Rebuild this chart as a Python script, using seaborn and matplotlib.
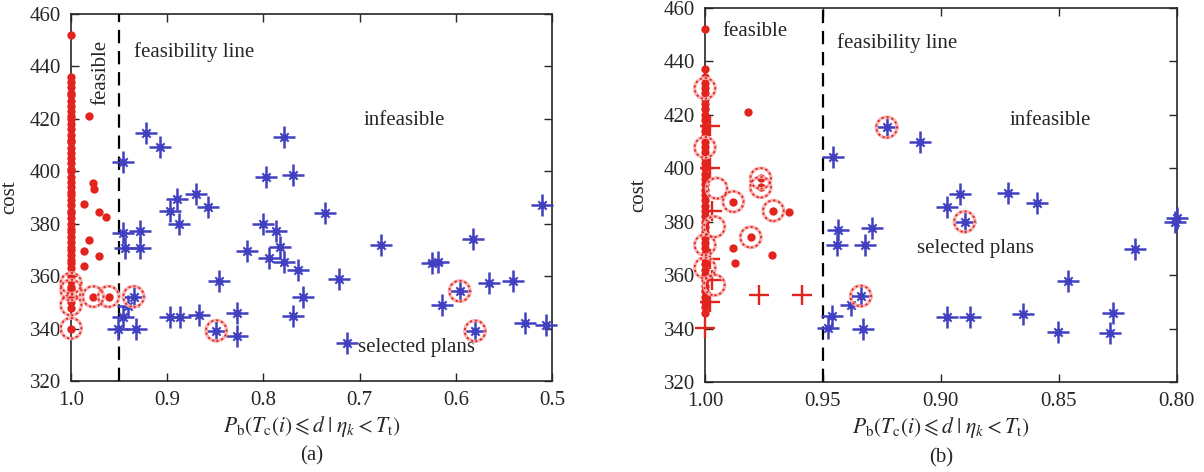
import matplotlib
matplotlib.use("Agg")
import matplotlib.pyplot as plt
import seaborn as sns

sns.set_style("ticks")
plt.rcParams['font.family'] = ['Liberation Serif', 'DejaVu Serif']
plt.rcParams['mathtext.fontset'] = 'stix'
plt.rcParams['font.size'] = 15

RED = "#e3231e"
BLUE = "#4040c0"
threshold = 0.95

# ---- panel (a) ----
a_col_y = [340, 348, 350, 352, 353, 355, 356, 358, 360, 361, 363, 365, 366, 368,
           370, 371, 373, 375, 377, 378, 380, 382, 384, 385, 387, 389, 391, 392,
           394, 396, 398, 400, 401, 403, 405, 407, 409, 411, 412, 414, 416, 418,
           420, 421, 423, 425, 427, 429, 430, 432, 434, 436, 452]
a_feas_x = [0.981, 0.977, 0.976, 0.987, 0.971, 0.964, 0.981, 0.987, 0.971, 0.987, 0.977, 0.961]
a_feas_y = [421.0, 395.4, 393.1, 387.5, 384.6, 382.7, 373.8, 369.7, 367.7, 363.9, 352.2, 352.2]
a_inf_x = [0.946, 0.922, 0.908, 0.897, 0.890, 0.888, 0.870, 0.858, 0.946, 0.928,
           0.779, 0.797, 0.769, 0.800, 0.787, 0.944, 0.928, 0.817, 0.794, 0.783,
           0.779, 0.764, 0.846, 0.935, 0.941, 0.946, 0.951, 0.932, 0.897, 0.887,
           0.867, 0.849, 0.827, 0.827, 0.769, 0.736, 0.721, 0.759, 0.678, 0.713,
           0.625, 0.619, 0.582, 0.614, 0.596, 0.580, 0.566, 0.541, 0.528, 0.506, 0.510]
a_inf_y = [403.7, 414.5, 409.2, 385.0, 389.3, 379.9, 391.2, 386.3, 376.6, 377.3,
           413.2, 397.9, 398.6, 379.9, 377.3, 370.6, 370.6, 369.7, 366.8, 371.2,
           365.5, 362.5, 358.3, 352.2, 348.6, 344.3, 339.7, 339.7, 344.3, 344.3,
           345.2, 339.2, 345.8, 337.2, 344.8, 384.0, 358.8, 352.2, 371.9, 334.4,
           365.1, 365.5, 374.0, 349.0, 354.3, 339.1, 357.3, 358.2, 342.2, 341.4, 387.1]
a_sel_x = [1.0, 1.0, 1.0, 1.0, 0.977, 0.961, 0.935, 0.849, 0.596, 0.580]
a_sel_y = [357.3, 354.7, 349.0, 340.1, 352.2, 352.2, 352.2, 339.2, 354.3, 339.1]

# ---- panel (b) ----
b_col_y = [346, 348, 350, 352, 354, 356, 358, 360, 362, 364, 366, 368, 370, 372,
           374, 376, 378, 380, 382, 384, 386, 388, 390, 392, 394, 396, 398, 400,
           402, 404, 406, 408, 410, 412, 414, 416, 418, 420, 422, 424, 426, 428,
           430, 432, 434, 437, 452]
b_feas_x = [0.9819, 0.9764, 0.9764, 0.988, 0.971, 0.9643, 0.9806, 0.988, 0.9873, 0.9715]
b_feas_y = [421.2, 396.2, 392.9, 387.5, 384.1, 383.5, 374.2, 370.0, 364.4, 367.5]
b_plus_x = [1.0, 0.998, 0.997, 0.998, 0.997, 0.998, 0.998, 0.977, 0.959]
b_plus_y = [340.1, 350.0, 358.0, 366.0, 384.0, 400.0, 416.0, 352.6, 352.6]
b_inf_x = [0.9456, 0.923, 0.9435, 0.929, 0.944, 0.932, 0.934, 0.938, 0.946, 0.948,
           0.933, 0.9088, 0.8975, 0.892, 0.890, 0.8717, 0.8594, 0.8007, 0.800,
           0.8177, 0.846, 0.8975, 0.8876, 0.8653, 0.8506, 0.8269, 0.8283]
b_inf_y = [404.3, 415.3, 376.9, 377.8, 371.3, 371.3, 352.2, 348.8, 344.7, 340.1,
           339.7, 409.9, 385.6, 390.4, 380.0, 390.9, 387.1, 380.0, 381.5,
           369.7, 357.9, 344.4, 344.4, 345.5, 338.8, 345.9, 338.2]
b_sel_x = [1.0, 1.0, 0.995, 0.996, 1.0, 1.0, 0.996, 0.9764, 0.9764, 0.988, 0.971,
           0.9806, 0.923, 0.934, 0.890]
b_sel_y = [429.9, 407.8, 392.5, 378.1, 371.3, 362.7, 356.3, 396.2, 392.9, 387.5,
           384.1, 374.2, 415.3, 352.2, 380.0]


def stars(ax, x, y):
    sns.scatterplot(x=x, y=y, ax=ax, marker='+', s=230, color=BLUE,
                    linewidth=1.8, clip_on=False, zorder=4)
    sns.scatterplot(x=x, y=y, ax=ax, marker='x', s=36, color=BLUE,
                    linewidth=1.5, clip_on=False, zorder=4)
    sns.scatterplot(x=x, y=y, ax=ax, marker='D', s=22, color=BLUE,
                    linewidth=0, clip_on=False, zorder=4)


def dots(ax, x, y):
    sns.scatterplot(x=x, y=y, ax=ax, marker='o', s=36, color=RED,
                    linewidth=0, clip_on=False, zorder=5)


def rings(ax, x, y):
    sns.scatterplot(x=x, y=y, ax=ax, marker='o', s=220, color='none',
                    edgecolor="#f7b4b4", linewidth=2.4, clip_on=False, zorder=6)
    sns.scatterplot(x=x, y=y, ax=ax, marker='o', s=220, color='none',
                    edgecolor=RED, linewidth=1.3, linestyle=(0, (1.2, 1.6)),
                    clip_on=False, zorder=6)


def style(ax, xlim, xticks, xtl, tag, ylab_x):
    ax.set_xlim(*xlim)
    ax.set_ylim(320, 460)
    ax.set_xticks(xticks)
    ax.set_xticklabels(xtl)
    ax.set_yticks(range(320, 461, 20))
    ax.tick_params(direction='in', length=6, width=1, top=True, right=True,
                   labelsize=15, pad=7)
    for sp in ax.spines.values():
        sp.set_visible(True)
        sp.set_linewidth(1.2)
    ax.axvline(threshold, color='k', lw=1.6, ls=(0, (6, 3.5)), zorder=3)
    ax.set_ylabel("cost", fontsize=15)
    ax.yaxis.set_label_coords(ylab_x, 0.5)
    ax.set_xlabel(r'$P_{\mathrm{b}}(T_{\mathrm{c}}(i)\leqslant d\;|\;\eta_k<T_{\mathrm{t}})$',
                  fontsize=15.5)
    ax.xaxis.set_label_coords(0.5, -0.123)
    ax.xaxis.label.set_va('center')
    ax.text(0.5, -0.203, tag, transform=ax.transAxes, ha='center', va='center',
            fontsize=15)


fig = plt.figure(figsize=(12.04, 4.72), dpi=100)
ax1 = fig.add_axes([0.059, 0.1928, 0.3995, 0.7775])
ax2 = fig.add_axes([0.5855, 0.1907, 0.392, 0.7924])

# (a)
dots(ax1, [1.0] * len(a_col_y), a_col_y)
dots(ax1, a_feas_x, a_feas_y)
stars(ax1, a_inf_x, a_inf_y)
rings(ax1, a_sel_x, a_sel_y)
style(ax1, (1.0, 0.5), [1.0, 0.9, 0.8, 0.7, 0.6, 0.5],
      ["1.0", "0.9", "0.8", "0.7", "0.6", "0.5"], "(a)", -0.108)
ax1.text(0.969, 437.9, "feasible", rotation=90, ha='center', va='center', fontsize=15)
ax1.text(0.9345, 445.5, "feasibility line", ha='left', va='center', fontsize=15)
ax1.text(0.654, 419.2, "infeasible", ha='center', va='center', fontsize=15)
ax1.text(0.7017, 332.6, "selected plans", ha='left', va='center', fontsize=15)

# (b)
dots(ax2, [1.0] * len(b_col_y), b_col_y)
dots(ax2, b_feas_x, b_feas_y)
sns.scatterplot(x=b_plus_x, y=b_plus_y, ax=ax2, marker='+', s=200, color=RED,
                linewidth=1.7, clip_on=False, zorder=5)
stars(ax2, b_inf_x, b_inf_y)
rings(ax2, b_sel_x, b_sel_y)
style(ax2, (1.0, 0.8), [1.0, 0.95, 0.9, 0.85, 0.8],
      ["1.00", "0.95", "0.90", "0.85", "0.80"], "(b)", -0.121)
ax2.text(0.9925, 451.1, "feasible", ha='left', va='center', fontsize=15)
ax2.text(0.9442, 446.8, "feasibility line", ha='left', va='center', fontsize=15)
ax2.text(0.8537, 417.8, "infeasible", ha='center', va='center', fontsize=15)
ax2.text(0.9102, 370.0, "selected plans", ha='left', va='center', fontsize=15)

fig.savefig("out.png", dpi=100)
